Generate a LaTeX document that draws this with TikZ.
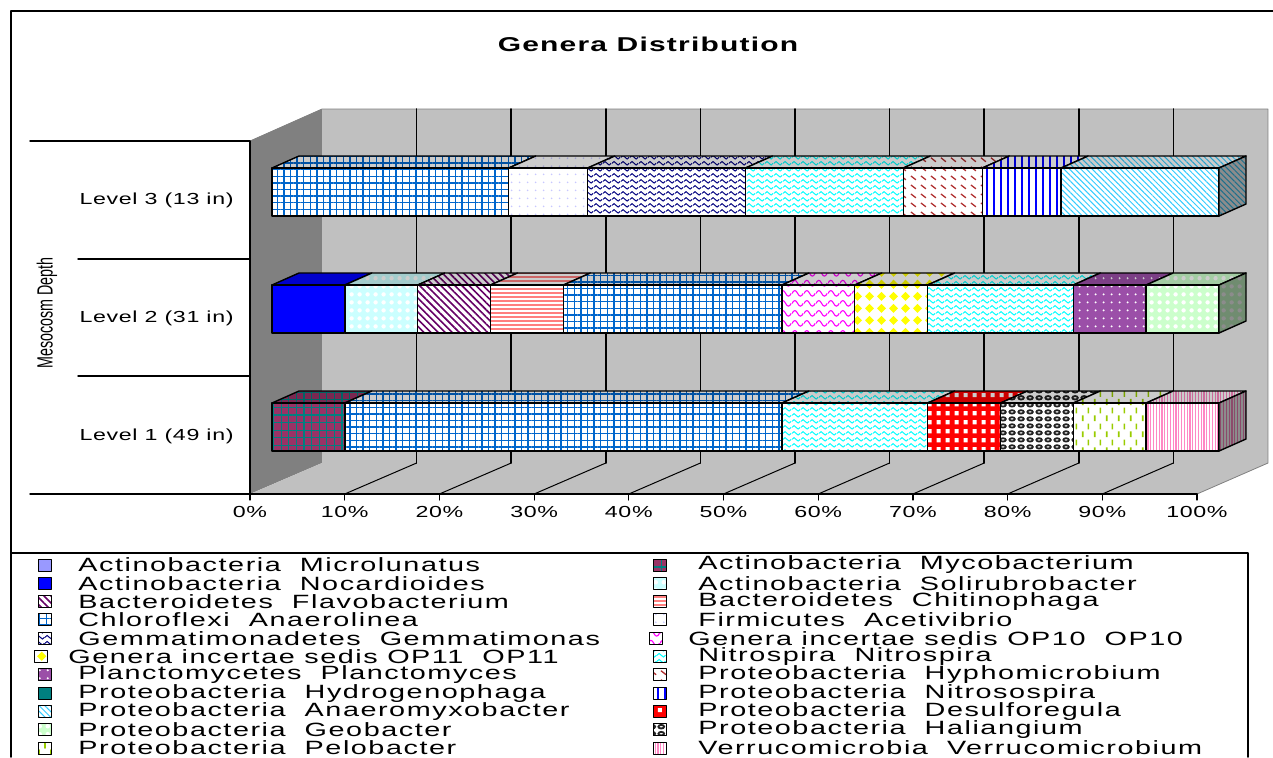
\documentclass[tikz,border=0pt]{standalone}
\usepackage{fontspec}
\setmainfont{Liberation Sans}
\newfontfamily\axisfont[FakeStretch=1.45,LetterSpace=4]{Liberation Sans}
\newfontfamily\keyfont[FakeStretch=1.5,LetterSpace=8]{Liberation Sans}
\newfontfamily\titlefont[FakeStretch=1.5,LetterSpace=6]{Liberation Sans}
\newfontfamily\depthfont[FakeStretch=0.65]{Liberation Sans}
\usetikzlibrary{patterns,patterns.meta}

\definecolor{wall}{HTML}{C0C0C0}
\definecolor{sidewall}{HTML}{808080}
\definecolor{cMicro}{HTML}{9999FF}
\definecolor{cMyco}{HTML}{993366}
\definecolor{cTeal}{HTML}{008080}
\definecolor{cNocar}{HTML}{0000FF}
\definecolor{cSoli}{HTML}{CCFFFF}
\definecolor{cFlavo}{HTML}{660066}
\definecolor{cChitino}{HTML}{FF7F7F}
\definecolor{cChloro}{HTML}{0066CC}
\definecolor{cFirmi}{HTML}{C8C8FF}
\definecolor{cGemma}{HTML}{000080}
\definecolor{cOpten}{HTML}{FF00FF}
\definecolor{cOpel}{HTML}{FFFF00}
\definecolor{cNitro}{HTML}{00FFFF}
\definecolor{cPlancto}{HTML}{9B4FA8}
\definecolor{cAnaero}{HTML}{33CCFF}
\definecolor{cGeo}{HTML}{CCFFCC}
\definecolor{cPelo}{HTML}{99CC00}
\definecolor{cHypho}{HTML}{B03030}
\definecolor{cDesulfo}{HTML}{FF0000}
\definecolor{cHali}{HTML}{222222}
\definecolor{cVerru}{HTML}{FF88C4}
\colorlet{cNitroso}{cNocar}

% home made fills
\pgfdeclarepatternformonly{wave}{\pgfqpoint{0pt}{-1pt}}{\pgfqpoint{4.5pt}{2pt}}{\pgfqpoint{4.5pt}{3pt}}{%
  \pgfsetlinewidth{.55pt}%
  \pgfpathmoveto{\pgfqpoint{0pt}{.5pt}}%
  \pgfpathcurveto{\pgfqpoint{.8pt}{1.8pt}}{\pgfqpoint{1.45pt}{1.8pt}}{\pgfqpoint{2.25pt}{.5pt}}%
  \pgfpathcurveto{\pgfqpoint{3.05pt}{-.8pt}}{\pgfqpoint{3.7pt}{-.8pt}}{\pgfqpoint{4.5pt}{.5pt}}%
  \pgfusepath{stroke}}
\pgfdeclarepatternformonly{scale}{\pgfqpoint{0pt}{0pt}}{\pgfqpoint{6pt}{5pt}}{\pgfqpoint{6pt}{5pt}}{%
  \pgfsetlinewidth{.6pt}%
  \pgfpathmoveto{\pgfqpoint{0pt}{2.5pt}}%
  \pgfpathcurveto{\pgfqpoint{1pt}{4.5pt}}{\pgfqpoint{2pt}{4.5pt}}{\pgfqpoint{3pt}{2.5pt}}%
  \pgfpathcurveto{\pgfqpoint{4pt}{.5pt}}{\pgfqpoint{5pt}{.5pt}}{\pgfqpoint{6pt}{2.5pt}}%
  \pgfusepath{stroke}}
\pgfdeclarepatternformonly{diamond}{\pgfqpoint{0pt}{0pt}}{\pgfqpoint{6pt}{6pt}}{\pgfqpoint{6pt}{6pt}}{%
  \pgfpathmoveto{\pgfqpoint{3pt}{.6pt}}\pgfpathlineto{\pgfqpoint{5.4pt}{3pt}}%
  \pgfpathlineto{\pgfqpoint{3pt}{5.4pt}}\pgfpathlineto{\pgfqpoint{.6pt}{3pt}}\pgfpathclose
  \pgfusepath{fill}}
\pgfdeclarepatternformonly{ring}{\pgfqpoint{0pt}{0pt}}{\pgfqpoint{4.5pt}{3.5pt}}{\pgfqpoint{4.5pt}{3.5pt}}{%
  \pgfsetlinewidth{1pt}%
  \pgfpathellipse{\pgfqpoint{2.25pt}{1.75pt}}{\pgfqpoint{1.5pt}{0pt}}{\pgfqpoint{0pt}{.95pt}}%
  \pgfusepath{stroke}}
\pgfdeclarepatternformonly{gingham}{\pgfqpoint{0pt}{0pt}}{\pgfqpoint{4.5pt}{4.5pt}}{\pgfqpoint{4.5pt}{4.5pt}}{%
  \pgfpathrectangle{\pgfqpoint{.4pt}{.4pt}}{\pgfqpoint{2.2pt}{2.2pt}}%
  \pgfusepath{fill}}
\pgfdeclarepatternformonly{vdash}{\pgfqpoint{0pt}{0pt}}{\pgfqpoint{6pt}{8pt}}{\pgfqpoint{6pt}{8pt}}{%
  \pgfsetlinewidth{.9pt}%
  \pgfpathmoveto{\pgfqpoint{1.5pt}{.5pt}}\pgfpathlineto{\pgfqpoint{1.5pt}{3.5pt}}%
  \pgfpathmoveto{\pgfqpoint{4.5pt}{4.5pt}}\pgfpathlineto{\pgfqpoint{4.5pt}{7.5pt}}%
  \pgfusepath{stroke}}
\pgfdeclarepatternformonly{ddash}{\pgfqpoint{0pt}{0pt}}{\pgfqpoint{5pt}{4.5pt}}{\pgfqpoint{5pt}{4.5pt}}{%
  \pgfsetlinewidth{.7pt}%
  \pgfpathmoveto{\pgfqpoint{.5pt}{3.3pt}}\pgfpathlineto{\pgfqpoint{3.2pt}{1.2pt}}%
  \pgfusepath{stroke}}

\tikzset{
  pat/.style n args={3}{preaction={fill=#1},pattern={#2},pattern color=#3},
  micro/.style={fill=cMicro},
  myco/.style={pat={cMyco}{Hatch[angle=0,distance=3.8pt,line width=.6pt]}{cTeal}},
  nocar/.style={fill=cNocar},
  soli/.style={pat={cSoli}{Dots[distance=4pt,radius=1.2pt]}{white}},
  flavo/.style={pat={white}{Lines[angle=-45,distance=2.5pt,line width=.8pt]}{cFlavo}},
  chitino/.style={pat={white}{Lines[angle=0,distance=2pt,line width=.7pt]}{cChitino}},
  chloro/.style={pat={white}{Hatch[angle=0,distance=3.3pt,line width=.7pt]}{cChloro}},
  firmi/.style={pat={white}{Dots[distance=4pt,radius=.5pt]}{cFirmi}},
  gemma/.style={pat={white}{wave}{cGemma}},
  opten/.style={pat={white}{scale}{cOpten}},
  opel/.style={pat={white}{diamond}{cOpel}},
  nitro/.style={pat={white}{wave}{cNitro}},
  plancto/.style={pat={cPlancto}{Dots[distance=4pt,radius=.6pt]}{white}},
  hydro/.style={fill=cTeal},
  anaero/.style={pat={white}{Lines[angle=-45,distance=2pt,line width=.5pt]}{cAnaero}},
  geo/.style={pat={cGeo}{Dots[distance=4pt,radius=1.2pt]}{white}},
  pelo/.style={pat={white}{vdash}{cPelo}},
  hypho/.style={pat={white}{ddash}{cHypho}},
  nitroso/.style={pat={white}{Lines[angle=90,distance=3.5pt,line width=.7pt]}{cNitroso}},
  desulfo/.style={pat={cDesulfo}{gingham}{white}},
  hali/.style={pat={white}{ring}{cHali}},
  verru/.style={pat={white}{Lines[angle=90,distance=1.4pt,line width=.55pt]}{cVerru}},
  keytext/.style={anchor=west,inner sep=0pt,font=\keyfont\fontsize{9.6}{10}\selectfont},
  axistext/.style={font=\axisfont\fontsize{8}{9}\selectfont}
}

% one piece of a bar: top y, left x, right x, fill style
\newcommand\seg[4]{%
  \path[#4,draw=black,line width=.7pt,postaction={fill=black,fill opacity=.2}]
    (#2,#1) -- (#2+27,#1-12) -- (#3+27,#1-12) -- (#3,#1) -- cycle;
  \path[#4,draw=black,line width=.7pt] (#2,#1) rectangle (#3,#1+48);}

\begin{document}
\begin{tikzpicture}[x=0.5pt,y=-0.5pt,line cap=round,line join=round]
\useasboundingbox (0,0) rectangle (1273,757);
\draw[line width=.75pt] (11,757) -- (11,11) -- (1273,11);
\node[font=\titlefont\bfseries\fontsize{10}{11}\selectfont] (title) at (648,44) {Genera Distribution};
% walls and floor
\fill[sidewall] (250,141) -- (322,109) -- (322,463) -- (250,494) -- cycle;
\fill[wall] (322,109) rectangle (1268,463);
\fill[wall] (250,494) -- (322,463) -- (1268,463) -- (1197,494) -- cycle;
\draw[sidewall] (250,141) -- (322,109) -- (1268,109) -- (1268,463) -- (1197,494);
\foreach \k in {1,...,9} {
  \draw[line width=.8pt] (322+94.6*\k,109) -- (322+94.6*\k,463);
  \draw[line width=.5pt] (250+94.7*\k,494) -- (322+94.6*\k,463);
}
% axes
\draw[line width=.7pt] (30,141) -- (250,141) (78,259) -- (250,259) (78,376) -- (250,376)
  (30,494) -- (1197,494) (250,141) -- (250,494);
\foreach \k in {0,...,10} {
  \pgfmathtruncatemacro\pc{10*\k}
  \draw[line width=.6pt] (250+94.7*\k,494) -- ++(0,6);
  \node[axistext] (pct\k) at (250+94.7*\k,512) {\pc\%};
}
\foreach \n/\y/\d in {3/200/13,2/318/31,1/436/49}
  \node[axistext,anchor=east,inner sep=0pt] (lev\n) at (234,\y) {Level \n\ (\d\ in)};
\node[rotate=90,font=\depthfont\fontsize{11}{12}\selectfont] (depth) at (47,313) {Mesocosm Depth};
% bars
\foreach \ty/\u/\last/\segs in {
  168/12/anaero/{0/3/chloro,3/4/firmi,4/6/gemma,6/8/nitro,8/9/hypho,9/10/nitroso,10/12/anaero},
  285/13/geo/{0/1/nocar,1/2/soli,2/3/flavo,3/4/chitino,4/7/chloro,7/8/opten,8/9/opel,9/11/nitro,11/12/plancto,12/13/geo},
  403/13/verru/{0/1/myco,1/7/chloro,7/9/nitro,9/10/desulfo,10/11/hali,11/12/pelo,12/13/verru}} {
  \foreach \i/\j/\s in \segs {\seg{\ty}{272+\i*947/\u}{272+\j*947/\u}{\s}}
  \path[\last,draw=black,line width=.7pt,postaction={fill=black,fill opacity=.45}]
    (1219,\ty) -- (1246,\ty-12) -- (1246,\ty+36) -- (1219,\ty+48) -- cycle;
}
% legend
\draw[line width=.75pt] (11,553) -- (1248,553) -- (1248,757);
\foreach \i/\dx/\s/\t in {0/0/micro/{Actinobacteria~~Microlunatus},
  1/0/nocar/{Actinobacteria~~Nocardioides}, 2/0/flavo/{Bacteroidetes~~Flavobacterium},
  3/0/chloro/{Chloroflexi~~Anaerolinea}, 4/0/gemma/{Gemmatimonadetes~~Gemmatimonas},
  5/-10/opel/{Genera incertae sedis OP11~~OP11}, 6/0/plancto/{Planctomycetes~~Planctomyces},
  7/0/hydro/{Proteobacteria~~Hydrogenophaga}, 8/0/anaero/{Proteobacteria~~Anaeromyxobacter},
  9/0/geo/{Proteobacteria~~Geobacter}, 10/0/pelo/{Proteobacteria~~Pelobacter}} {
  \path[\s,draw=black,line width=.5pt] (38+\dx*.4,559+18.3*\i) rectangle ++(13,12);
  \node[keytext] (keyL\i) at (78+\dx,565+18.3*\i) {\t};
}
\foreach \i/\dx/\s/\t in {0/0/myco/{Actinobacteria~~Mycobacterium},
  1/0/soli/{Actinobacteria~~Solirubrobacter}, 2/0/chitino/{Bacteroidetes~~Chitinophaga},
  3/0/firmi/{Firmicutes~~Acetivibrio}, 4/-10/opten/{Genera incertae sedis OP10~~OP10},
  5/0/nitro/{Nitrospira~~Nitrospira}, 6/0/hypho/{Proteobacteria~~Hyphomicrobium},
  7/0/nitroso/{Proteobacteria~~Nitrosospira}, 8/0/desulfo/{Proteobacteria~~Desulforegula},
  9/0/hali/{Proteobacteria~~Haliangium}, 10/0/verru/{Verrucomicrobia~~Verrucomicrobium}} {
  \path[\s,draw=black,line width=.5pt] (653+\dx*.4,559+18.3*\i) rectangle ++(13,12);
  \node[keytext] (keyR\i) at (698+\dx,565+18.3*\i) {\t};
}
\end{tikzpicture}
\end{document}
